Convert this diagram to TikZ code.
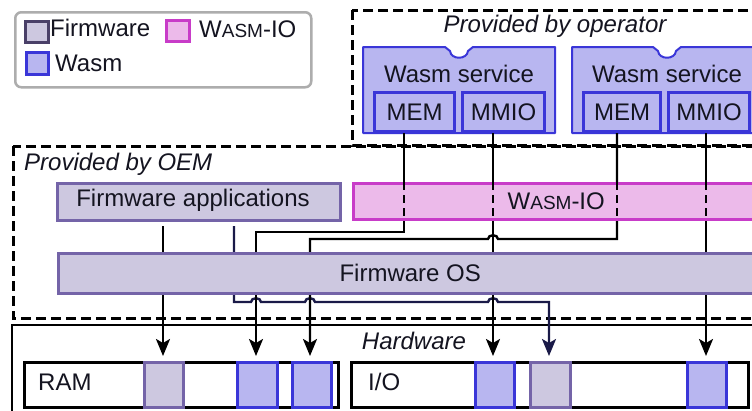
\documentclass[tikz,border=0pt]{standalone}
\usepackage{fontspec}
\setmainfont{Liberation Sans}
\usetikzlibrary{arrows.meta}
\definecolor{fwfill}{HTML}{CDC8E0}
\definecolor{fwdraw}{HTML}{7464A8}
\definecolor{fwdark}{HTML}{4A4068}
\definecolor{wfill}{HTML}{B8B6F0}
\definecolor{wdraw}{HTML}{3A36D8}
\definecolor{iofill}{HTML}{ECBAEA}
\definecolor{iodraw}{HTML}{C83CC8}
\definecolor{navyline}{HTML}{1A1A48}
\definecolor{txt}{HTML}{141420}
\newcommand\wasmio{W{\fontsize{19}{20}\selectfont ASM}-IO}
\tikzset{
  bigfont/.style={font=\fontsize{24}{28}\selectfont},
  box/.style={draw, line width=2.5pt, inner sep=0pt, anchor=north west, bigfont, text=txt},
  fwbox/.style={box, fill=fwfill, draw=fwdraw},
  wbox/.style={box, fill=wfill, draw=wdraw, line width=3pt},
  iobox/.style={box, fill=iofill, draw=iodraw},
  hwbox/.style={box, draw=black, line width=2.6pt},
  blkfw/.style={box, fill=fwfill, draw=fwdraw, minimum height=45pt},
  blkw/.style={box, fill=wfill, draw=wdraw, minimum height=45pt},
  lbl/.style={anchor=base west, inner sep=0pt, bigfont, text=txt},
  frame/.style={draw=black, line width=3pt, dash pattern=on 10pt off 5pt},
  svc/.style={draw=wdraw, fill=wfill, line width=2pt, line join=round},
  wire/.style={draw=black, line width=2.4pt},
  conn/.style={wire, -{Stealth[length=17pt,width=14pt,inset=4pt]}},
  thru/.style={wire, dash pattern=on 8pt off 5pt},
}
\begin{document}
\begin{tikzpicture}[x=1pt, y=-1pt]
\useasboundingbox (0,0) rectangle (752,410);
\clip (0,0) rectangle (752,410);
\fill[white] (0,0) rectangle (752,410);

% legend
\node[draw=black!32, line width=2.5pt, rounded corners=6pt, anchor=north west, minimum width=296pt, minimum height=75pt, inner sep=0pt] (legend) at (14,11) {};
\node[box, fill=fwfill, draw=fwdark, line width=2.8pt, minimum width=23pt, minimum height=21pt] (swfw) at (24,20) {};
\node[lbl] (lgfw) at (50,36) {Firmware};
\node[box, fill=iofill, draw=iodraw, line width=2.8pt, minimum width=23pt, minimum height=21pt] (swio) at (165,19) {};
\node[lbl] (lgio) at (199,37) {\wasmio};
\node[box, fill=wfill, draw=wdraw, line width=2.8pt, minimum width=22pt, minimum height=22pt] (sww) at (25,51) {};
\node[lbl] (lgw) at (55,71) {Wasm};

% frames
\draw[frame] (352,10) rectangle (790,145);
\node[anchor=base, inner sep=0pt, text=txt, font=\fontsize{24}{28}\selectfont\itshape] (oplbl) at (555,32) {Provided by operator};
\draw[frame] (13,146) rectangle (790,318);
\node[lbl, font=\fontsize{24}{28}\selectfont\itshape] (oemlbl) at (24,170) {Provided by OEM};
\draw[black, line width=2.6pt] (12,325) rectangle (790,440);
\node[anchor=base, inner sep=0pt, text=txt, font=\fontsize{24}{28}\selectfont\itshape] (hwlbl) at (414,349) {Hardware};

% wasm services
\draw[svc] (363,47) -- (445,47) -- (450,51) .. controls (451,60) and (467,60) .. (468,51) -- (473,47) -- (555,47) -- (555,133) -- (363,133) -- cycle;
\node[anchor=base, inner sep=0pt, bigfont, text=txt] (svc1) at (459,82) {Wasm service};
\node[wbox, minimum width=80pt, minimum height=39pt] (mem1) at (373,91) {MEM};
\node[wbox, minimum width=82pt, minimum height=39pt] (mmio1) at (461,91) {MMIO};
\draw[svc] (572,47) -- (653,47) -- (658,51) .. controls (659,60) and (675,60) .. (676,51) -- (681,47) -- (764,47) -- (764,133) -- (572,133) -- cycle;
\node[anchor=base, inner sep=0pt, bigfont, text=txt] (svc2) at (667,82) {Wasm service};
\node[wbox, minimum width=77pt, minimum height=39pt] (mem2) at (582,91) {MEM};
\node[wbox, minimum width=81pt, minimum height=39pt] (mmio2) at (667,91) {MMIO};

% firmware applications
\node[fwbox, minimum width=283pt, minimum height=37pt] (fwapp) at (56,182) {};
\node[anchor=center, inner sep=0pt, bigfont, text=txt] (fwapplbl) at (193,200) {Firmware applications};

% hardware
\node[hwbox, minimum width=314pt, minimum height=45pt] (ram) at (23,361) {};
\node[lbl] (ramlbl) at (38,390) {RAM};
\node[hwbox, minimum width=397pt, minimum height=45pt] (io) at (350,361) {};
\node[lbl] (iolbl) at (368,390) {I/O};
\node[blkfw, minimum width=39pt] (ramfw) at (143,361) {};
\node[blkw, minimum width=40pt] (ramw1) at (236,361) {};
\node[blkw, minimum width=39pt] (ramw2) at (291,361) {};
\node[blkw, minimum width=39pt] (iow1) at (474,361) {};
\node[blkfw, minimum width=40pt] (iofw) at (529,361) {};
\node[blkw, minimum width=39pt] (iow3) at (686,361) {};

% connectors
\coordinate (a1) at (163,226);
\coordinate (a2) at (234,226);
\draw[conn] (a1) -- ([yshift=5pt]a1 |- ramfw.north);
\draw[conn, draw=navyline] (a2) -- (234,302) -- (251,302) .. controls (251,297) and (261,297) .. (261,302)
  -- (305,302) .. controls (305,297) and (315,297) .. (315,302)
  -- (488,302) .. controls (488,297) and (498,297) .. (498,302)
  -- (549,302) -- ([yshift=5pt]549,0 |- iofw.north);
\draw[conn] (404,0 |- mem1.south) -- (404,232) -- (256,232) -- ([yshift=5pt]256,0 |- ramw1.north);
\draw[conn] (493,0 |- mmio1.south) -- ([yshift=5pt]493,0 |- iow1.north);
\draw[conn] (617,0 |- mem2.south) -- (617,239) -- (498,239) .. controls (498,234) and (488,234) .. (488,239) -- (310,239) -- ([yshift=5pt]310,0 |- ramw2.north);
\draw[conn] (706,0 |- mmio2.south) -- ([yshift=5pt]706,0 |- iow3.north);

% Wasm-IO layer with wires passing through
\node[iobox, minimum width=406pt, minimum height=36pt] (wio) at (352,182) {\wasmio};
\foreach \xx in {404,493,617,706}
  \draw[thru] (\xx,0 |- wio.north) -- (\xx,0 |- wio.south);

% firmware OS covers wires
\node[fwbox, minimum width=704pt, minimum height=40pt] (fwos) at (57,252) {Firmware OS};
\end{tikzpicture}
\end{document}
